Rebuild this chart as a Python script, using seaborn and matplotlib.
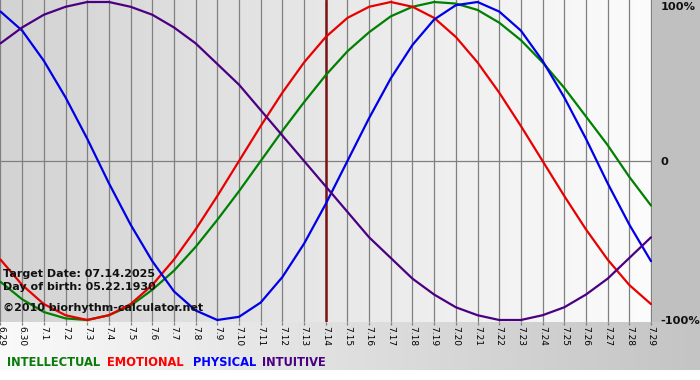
"""Biorhythm chart: 6.29 - 7.29, target date 7.14."""

import numpy as np
import pandas as pd
import matplotlib
matplotlib.use('Agg')
import matplotlib.pyplot as plt
from matplotlib.colors import LinearSegmentedColormap
from matplotlib.patches import Rectangle
import seaborn as sns

sns.set_theme(style='white')
plt.rcParams['font.family'] = ['DejaVu Sans']

# Day labels along the bottom
day_labels = ['6.29', '6.30', '7.1', '7.2', '7.3', '7.4', '7.5', '7.6', '7.7', '7.8',
              '7.9', '7.10', '7.11', '7.12', '7.13', '7.14', '7.15', '7.16', '7.17',
              '7.18', '7.19', '7.20', '7.21', '7.22', '7.23', '7.24', '7.25', '7.26',
              '7.27', '7.28', '7.29']
target_label = '7.14'

# Rhythm values per day (-1 .. 1)
intellectual = [-0.76, -0.87, -0.95, -0.99, -1.00, -0.97, -0.91, -0.81, -0.69, -0.54,
                -0.37, -0.19, 0.00, 0.19, 0.37, 0.54, 0.69, 0.81, 0.91, 0.97,
                1.00, 0.99, 0.95, 0.87, 0.76, 0.62, 0.46, 0.28, 0.10, -0.10, -0.28]
emotional = [-0.62, -0.78, -0.90, -0.97, -1.00, -0.97, -0.90, -0.78, -0.62, -0.43,
             -0.22, 0.00, 0.22, 0.43, 0.62, 0.78, 0.90, 0.97, 1.00, 0.97,
             0.90, 0.78, 0.62, 0.43, 0.22, 0.00, -0.22, -0.43, -0.62, -0.78, -0.90]
physical = [0.94, 0.82, 0.63, 0.40, 0.14, -0.14, -0.40, -0.63, -0.82, -0.94,
            -1.00, -0.98, -0.89, -0.73, -0.52, -0.27, 0.00, 0.27, 0.52, 0.73,
            0.89, 0.98, 1.00, 0.94, 0.82, 0.63, 0.40, 0.14, -0.14, -0.40, -0.63]
intuitive = [0.74, 0.84, 0.92, 0.97, 1.00, 1.00, 0.97, 0.92, 0.84, 0.74,
             0.61, 0.48, 0.32, 0.16, 0.00, -0.16, -0.32, -0.48, -0.61, -0.74,
             -0.84, -0.92, -0.97, -1.00, -1.00, -0.97, -0.92, -0.84, -0.74, -0.61, -0.48]

rhythms = ['INTELLECTUAL', 'EMOTIONAL', 'PHYSICAL', 'INTUITIVE']
line_colors = {'INTELLECTUAL': '#008000', 'EMOTIONAL': '#e80000',
               'PHYSICAL': '#0000e6', 'INTUITIVE': '#4b0082'}
text_colors = {'INTELLECTUAL': '#0a7a0a', 'EMOTIONAL': '#ff0000',
               'PHYSICAL': '#0000ff', 'INTUITIVE': '#4b0082'}

rows = []
for name, vals in zip(rhythms, [intellectual, emotional, physical, intuitive]):
    for i, v in enumerate(vals):
        rows.append({'day': i, 'value': v, 'rhythm': name})
df = pd.DataFrame(rows)

W, H = 700, 380
PL, PR, PT, PB = 0, 652, 0, 322   # plot area in pixels

fig = plt.figure(figsize=(W / 100, H / 100), dpi=100)
fig.patch.set_facecolor('white')

# Background layer in pixel coordinates
bg = fig.add_axes([0, 0, 1, 1])
bg.set_xlim(0, W)
bg.set_ylim(H, 0)
bg.axis('off')
grad = np.linspace(0, 1, 256).reshape(1, -1)
plot_cmap = LinearSegmentedColormap.from_list('plotbg', ['#d3d3d3', '#fcfcfc'])
band_cmap = LinearSegmentedColormap.from_list('bandbg', ['#fafafa', '#c4c4c4'])
bg.imshow(grad, cmap=plot_cmap, extent=(PL, PR, PB, PT), aspect='auto')
bg.imshow(grad, cmap=band_cmap, extent=(0, W, 370, PB), aspect='auto')
bg.add_patch(Rectangle((PR, 0), W - PR, PB, color='#c0c0c0', lw=0))
bg.set_xlim(0, W)
bg.set_ylim(H, 0)

# Main plot
ax = fig.add_axes([PL / W, 1 - PB / H, (PR - PL) / W, (PB - PT) / H])
ax.patch.set_alpha(0)

x = np.arange(len(day_labels))
ax.vlines(x, -1.2, 1.2, color='#808080', lw=0.9, zorder=1)
ax.axhline(0, color='#808080', lw=0.9, zorder=1)
ax.axvline(day_labels.index(target_label), color='#7a1414', lw=1.8, zorder=2)

sns.lineplot(data=df, x='day', y='value', hue='rhythm', hue_order=rhythms,
             palette=line_colors, lw=1.6, legend=False, ax=ax, zorder=3)

ax.set_xlim(-0.023, 30.046)
ax.set_ylim(-1.0126, 1.0126)
for s in ax.spines.values():
    s.set_visible(False)

ax.set_xticks(x)
ax.set_xticklabels(day_labels, rotation=270, fontsize=6.5, color='black')
ax.tick_params(axis='x', bottom=True, length=2, width=0.9, color='#808080', pad=1)
ax.set_xlabel('')
ax.set_ylabel('')

ax.yaxis.tick_right()
ax.set_yticks([1, 0, -1])
ax.set_yticklabels(['100%', '0', '-100%'], fontsize=8.2, fontweight='bold', color='#111111')
ax.tick_params(axis='y', right=False, left=False, length=0, pad=6)
ax.get_yticklabels()[0].set_va('top')

# Info text (drawn over the curves)
info = [('Target Date: 07.14.2025', 277), ('Day of birth: 05.22.1930', 290),
        ('\u00a92010 biorhythm-calculator.net', 311)]
for txt, yb in info:
    fig.text(3, yb, txt, transform=bg.transData, fontsize=8, fontweight='bold',
             color='#111111', va='baseline', ha='left')

# Colored legend words
legend_x = [7, 107, 193, 262]
for name, lx in zip(rhythms, legend_x):
    fig.text(lx, 362, name, transform=bg.transData, fontsize=8.3, fontweight='bold',
             color=text_colors[name], va='center', ha='left')

plt.savefig('out.png', dpi=100)
plt.close()
